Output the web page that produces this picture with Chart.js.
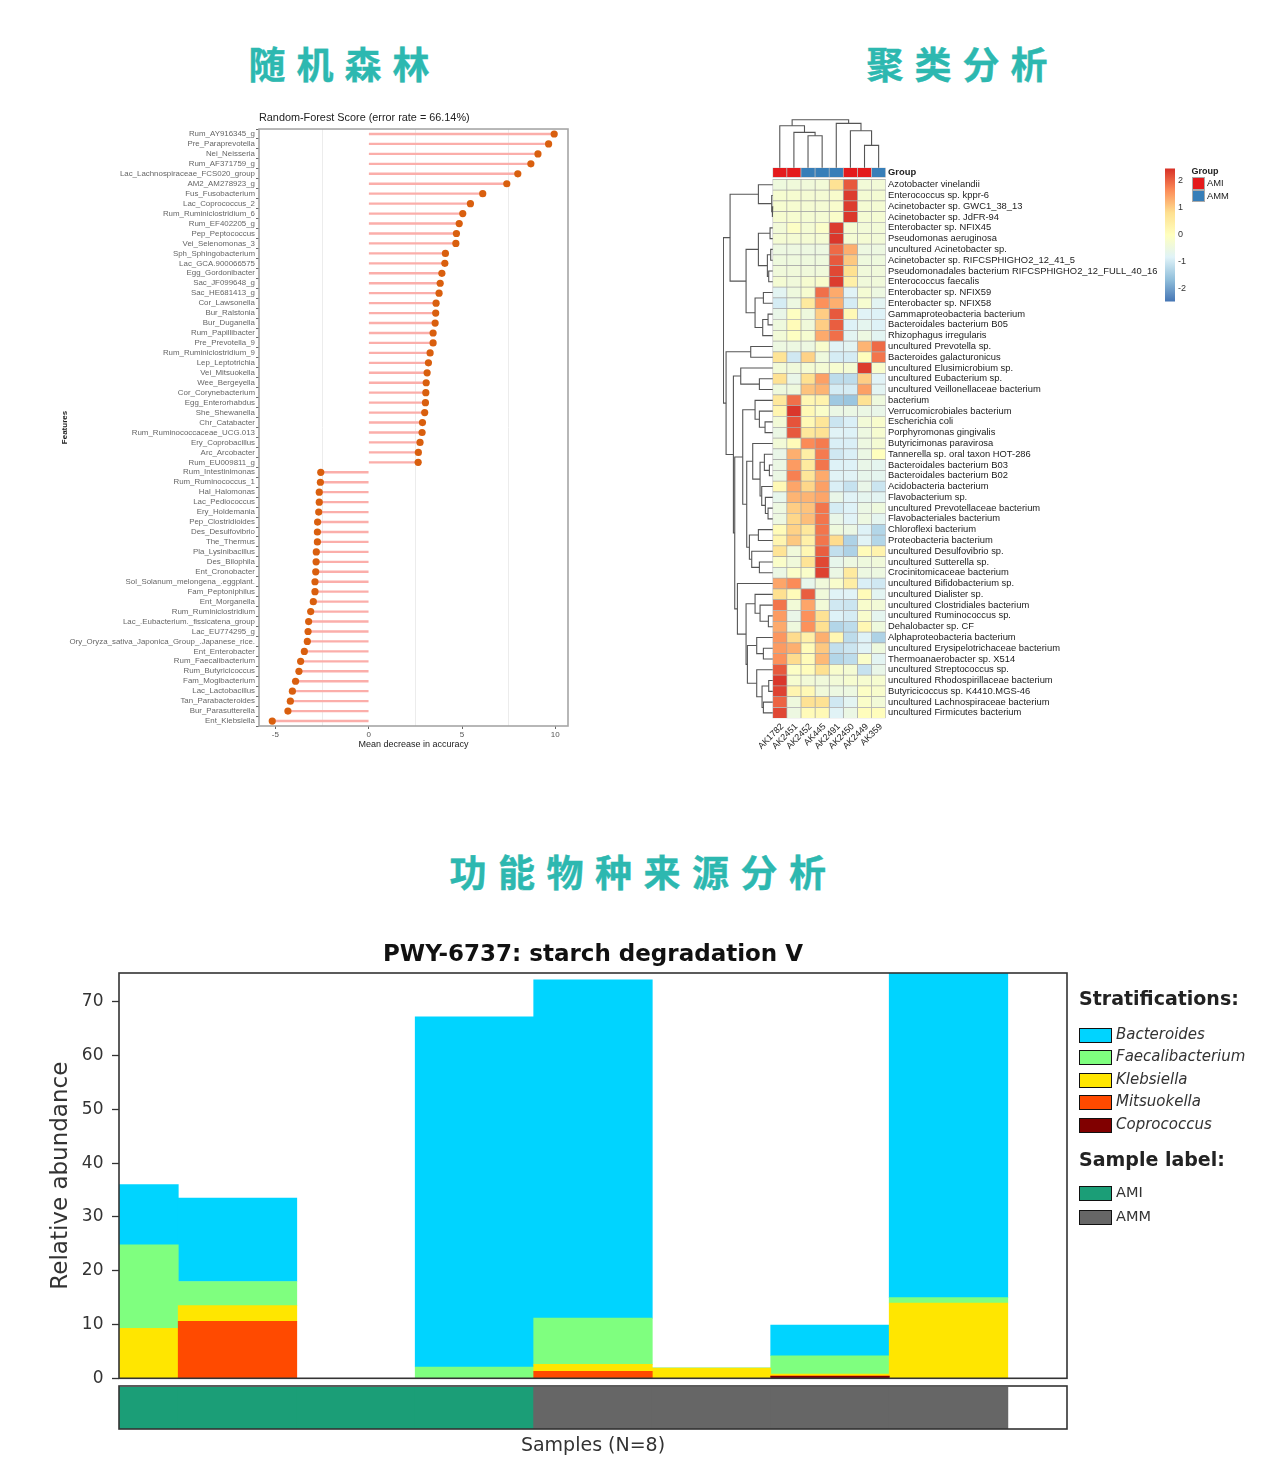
<!DOCTYPE html>
<html lang="zh"><head><meta charset="utf-8">
<script src="https://cdn.jsdelivr.net/npm/chart.js@4"></script>
<style>
html,body{margin:0;padding:0;background:#fff;}
body{position:relative;width:1280px;height:1475px;overflow:hidden;}
canvas{position:absolute;}
.soft{filter:blur(.45px);}
.abs{position:absolute;white-space:pre;}
.head{font:700 37px/40px "Noto Sans CJK SC";color:#2db8b0;letter-spacing:11px;-webkit-text-stroke:.4px #2db8b0;}
</style></head><body>
<div class="abs head" style="left:248.5px;top:43px">随机森林</div>
<div class="abs head" style="left:866.5px;top:43px">聚类分析</div>
<div class="abs head" style="left:449.5px;top:851px;letter-spacing:11.5px">功能物种来源分析</div>
<canvas id="rf" class="soft" style="left:60px;top:100px" width="520" height="660"></canvas>
<canvas id="heat" class="soft" style="left:720px;top:110px" width="445" height="660"></canvas>
<canvas id="ramp" class="soft" style="left:1150px;top:160px" width="50" height="150"></canvas>
<canvas id="bars" class="soft" style="left:40px;top:930px" width="1040" height="467"></canvas>
<canvas id="strip" class="soft" style="left:40px;top:1380px" width="1040" height="80"></canvas>
<div id="legends"></div>
<script>
/* ---------- random forest ---------- */
const rfFeatures = ["Rum_AY916345_g","Pre_Paraprevotella","Nei_Neisseria","Rum_AF371759_g","Lac_Lachnospiraceae_FCS020_group","AM2_AM278923_g","Fus_Fusobacterium","Lac_Coprococcus_2","Rum_Ruminiclostridium_6","Rum_EF402205_g","Pep_Peptococcus","Vei_Selenomonas_3","Sph_Sphingobacterium","Lac_GCA.900066575","Egg_Gordonibacter","Sac_JF099648_g","Sac_HE681413_g","Cor_Lawsonella","Bur_Ralstonia","Bur_Duganella","Rum_Papillibacter","Pre_Prevotella_9","Rum_Ruminiclostridium_9","Lep_Leptotrichia","Vei_Mitsuokella","Wee_Bergeyella","Cor_Corynebacterium","Egg_Enterorhabdus","She_Shewanella","Chr_Catabacter","Rum_Ruminococcaceae_UCG.013","Ery_Coprobacillus","Arc_Arcobacter","Rum_EU009811_g","Rum_Intestinimonas","Rum_Ruminococcus_1","Hal_Halomonas","Lac_Pediococcus","Ery_Holdemania","Pep_Clostridioides","Des_Desulfovibrio","The_Thermus","Pla_Lysinibacillus","Des_Bilophila","Ent_Cronobacter","Sol_Solanum_melongena_.eggplant.","Fam_Peptoniphilus","Ent_Morganella","Rum_Ruminiclostridium","Lac_.Eubacterium._fissicatena_group","Lac_EU774295_g","Ory_Oryza_sativa_Japonica_Group_.Japanese_rice.","Ent_Enterobacter","Rum_Faecalibacterium","Rum_Butyricicoccus","Fam_Mogibacterium","Lac_Lactobacillus","Tan_Parabacteroides","Bur_Parasutterella","Ent_Klebsiella"];
const rfScores = [9.94,9.64,9.07,8.69,7.99,7.40,6.11,5.45,5.04,4.85,4.70,4.67,4.11,4.08,3.92,3.83,3.77,3.61,3.59,3.56,3.45,3.45,3.29,3.20,3.13,3.08,3.06,3.04,3.00,2.88,2.86,2.75,2.66,2.65,-2.57,-2.59,-2.65,-2.65,-2.68,-2.74,-2.75,-2.75,-2.81,-2.82,-2.84,-2.88,-2.88,-2.97,-3.11,-3.22,-3.25,-3.29,-3.45,-3.65,-3.74,-3.92,-4.09,-4.20,-4.33,-5.17];
const rfTicks = [-5,-2.5,0,2.5,5,7.5,10];

/* ---------- clustered heatmap ---------- */
const heatColumns = ["AK1782","AK2451","AK2452","AK445","AK2491","AK2450","AK2449","AK359"];
const heatGroups = ["AMI","AMI","AMM","AMM","AMM","AMI","AMI","AMM"];
const heatRows = ["Azotobacter vinelandii","Enterococcus sp. kppr-6","Acinetobacter sp. GWC1_38_13","Acinetobacter sp. JdFR-94","Enterobacter sp. NFIX45","Pseudomonas aeruginosa","uncultured Acinetobacter sp.","Acinetobacter sp. RIFCSPHIGHO2_12_41_5","Pseudomonadales bacterium RIFCSPHIGHO2_12_FULL_40_16","Enterococcus faecalis","Enterobacter sp. NFIX59","Enterobacter sp. NFIX58","Gammaproteobacteria bacterium","Bacteroidales bacterium B05","Rhizophagus irregularis","uncultured Prevotella sp.","Bacteroides galacturonicus","uncultured Elusimicrobium sp.","uncultured Eubacterium sp.","uncultured Veillonellaceae bacterium","bacterium","Verrucomicrobiales bacterium","Escherichia coli","Porphyromonas gingivalis","Butyricimonas paravirosa","Tannerella sp. oral taxon HOT-286","Bacteroidales bacterium B03","Bacteroidales bacterium B02","Acidobacteria bacterium","Flavobacterium sp.","uncultured Prevotellaceae bacterium","Flavobacteriales bacterium","Chloroflexi bacterium","Proteobacteria bacterium","uncultured Desulfovibrio sp.","uncultured Sutterella sp.","Crocinitomicaceae bacterium","uncultured Bifidobacterium sp.","uncultured Dialister sp.","uncultured Clostridiales bacterium","uncultured Ruminococcus sp.","Dehalobacter sp. CF","Alphaproteobacteria bacterium","uncultured Erysipelotrichaceae bacterium","Thermoanaerobacter sp. X514","uncultured Streptococcus sp.","uncultured Rhodospirillaceae bacterium","Butyricicoccus sp. K4410.MGS-46","uncultured Lachnospiraceae bacterium","uncultured Firmicutes bacterium"];
const heatValues = [
[-.45,-.4,-.4,-.35,.75,2.1,-.35,-.35],
[-.25,-.25,-.3,-.3,-.2,2.35,-.3,-.3],
[-.25,-.25,-.3,-.3,-.2,2.35,-.3,-.3],
[-.25,-.25,-.3,-.3,-.15,2.4,-.3,-.3],
[-.35,-.1,-.3,-.15,2.35,-.3,-.35,-.35],
[-.3,-.3,-.3,-.3,2.4,-.3,-.3,-.35],
[-.5,-.5,-.5,-.5,1.95,1.3,-.5,-.5],
[-.45,-.45,-.45,-.45,2.1,1.05,-.45,-.45],
[-.4,-.4,-.4,-.4,2.25,.8,-.4,-.4],
[-.3,-.4,-.25,-.2,2.35,.4,-.4,-.4],
[-.75,-.45,-.25,1.9,1.35,-.8,-.3,-.5],
[-.95,-.5,.55,1.6,1.3,-.95,-.25,-.75],
[-.6,-.05,-.45,1,2.1,.15,-.8,-.85],
[-.45,.1,-.4,1,2.05,-.85,-.7,-.85],
[-.35,-.05,-.25,1.35,1.9,-.75,-.5,-.75],
[-.5,-.5,-.5,-.2,-.8,-.75,1.25,1.95],
[.7,-1,.95,-.45,-.95,-.95,.05,1.85],
[-.35,-.4,-.3,-.3,-.25,-.3,2.35,-.2],
[.75,-.6,.8,1.45,-1.2,-1.2,1,-.8],
[-.45,-.45,1.1,1.25,-.95,-.95,1.45,-.75],
[.6,1.9,.2,.3,-1.5,-1.55,.75,-.45],
[.25,2.4,.15,-.15,-.55,-.55,-.55,-.6],
[-.35,2.15,.15,.65,-1.05,-.9,-.35,-.2],
[-.55,2.1,.6,.75,-.8,-.85,-.5,-.25],
[-.35,.1,1.65,1.8,-.9,-.9,-.5,-.3],
[-.6,1.3,.45,1.8,-1,-.9,-.55,0],
[-.55,1.5,.55,1.85,-.85,-.85,-.6,-.7],
[-.55,1.75,.65,1.35,-.8,-.8,-.65,-.7],
[.15,1.4,.9,1.45,-.9,-1.1,-.6,-1.05],
[-.65,1.25,1.25,1.4,-.6,-.8,-.7,-.75],
[-.5,1,1.1,1.85,-.95,-.85,-.55,-.45],
[-.5,.9,1.15,1.85,-.6,-.8,-.5,-.7],
[.1,.95,.6,1.85,-.45,-.55,-.85,-1.3],
[.25,1.05,.4,1.85,.85,-1.35,-.8,-1.3],
[.7,-.4,.2,2.05,-1.15,-1.35,.1,.3],
[-.15,-.4,.7,2.25,-.65,-.5,-.45,-.4],
[-.55,-.15,-.15,2.3,-.55,.55,-.5,-.5],
[1.4,1.65,-.65,-.4,-.2,.45,-.9,-1],
[.8,.1,2.05,-.4,-.8,-.8,.1,-.75],
[1.85,-.35,1.4,-.35,-1,-1.05,-.2,-.35],
[1.5,-.6,1.6,.75,-.85,-.95,-.2,-.7],
[1.35,-.45,1.6,.8,-1.3,-1.2,.2,-.45],
[1.55,.85,.4,1.3,.2,-1.2,-.85,-1.35],
[1.5,1.3,.1,1.05,-1.15,-1.05,-.8,-.45],
[1.6,.85,.1,1.2,-1.3,-1.2,-.15,-.75],
[2.1,-.1,.05,.8,-.2,-.3,-1.1,-.6],
[2.4,-.25,-.35,-.4,-.35,-.25,-.25,-.25],
[2.3,.25,.15,-.4,-.5,-.5,-.1,-.2],
[2,-.45,.75,.75,-1,-.75,-.15,-.35],
[2.25,-.5,.1,.15,-.8,-.55,.05,.05]];
const heatRange = [-2.48,2.46];
const heatPalette = ["#4575b4","#91bfdb","#e0f3f8","#ffffbf","#fee090","#fc8d59","#d73027"];
const heatScaleTicks = [-2,-1,0,1,2];
const groupColors = {AMI:"#e41a1c",AMM:"#377eb8"};
/* dendrograms: [merge height, upper branch, lower branch]; 0 is a leaf */
const columnTree = [144,[126,0,[106,0,[96,0,0]]],[133,0,[111,0,[67,0,0]]]];
const rowTree = [148,
 [128,[43,0,[3,0,[1.5,0,0]]],
      [80,[43,[8,0,0],[16,[6,0,0],[12,0,0]]],
          [53,[28,0,0],[30,[14,0,0],0]]]],
 [140,[66,0,0],
      [118,[96,0,[40,0,0]],
           [114,[90,[53,0,[40,0,[23,0,0]]],
                    [78,[60,0,[38,[25,0,[10,0,0]],[33,0,[22,0,[14,0,0]]]]],
                        [70,[43,0,0],[63,0,[40,0,0]]]]],
                [106,0,[80,[53,0,[38,0,[13,0,0]]],
                           [76,[48,0,[28,0,0]],
                               [48,0,[32,[12,0,0],[28,0,0]]]]]]]]]];

/* ---------- stacked abundance ---------- */
const barSampleIndex = [0,1,2,3,4,5,6,7];
const taxa = ["Coprococcus","Mitsuokella","Klebsiella","Faecalibacterium","Bacteroides"];
const coprococcus      = [0,0,0,0,0,0,.35,0];
const mitsuokella      = [0,10.6,0,0,1.3,0,.1,0];
const klebsiella       = [9.3,2.9,0,0,1.3,1.9,.35,14];
const faecalibacterium = [15.5,4.5,0,2.1,8.6,0,3.4,1];
const bacteroides      = [11.2,15.5,0,65.1,62.9,0,5.7,65];
const taxaColors = ["#800000","#ff4a00","#ffe600","#7fff7f","#00d4ff"];
const sampleGroups = ["AMI","AMI","AMI","AMI","AMM","AMM","AMM","AMM"];
const sampleColors = {AMI:"#1b9e77",AMM:"#666666"};

/* ---------- helpers ---------- */
Chart.defaults.animation = false;
Chart.defaults.responsive = false;
Chart.defaults.plugins.legend.display = false;
Chart.defaults.plugins.tooltip.enabled = false;
const HELV = "'Liberation Sans'", DJV = "'DejaVu Sans'";
const frame = (color,width) => ({id:'frame',afterDatasetsDraw(c){
  const a=c.chartArea,x=c.ctx;x.save();x.strokeStyle=color;x.lineWidth=width;
  x.strokeRect(a.left,a.top,a.right-a.left,a.bottom-a.top);x.restore();}});
const hex = h => [1,3,5].map(i=>parseInt(h.substr(i,2),16));
function heatColor(v){
  const t=Math.max(0,Math.min(1,(v-heatRange[0])/(heatRange[1]-heatRange[0])))*(heatPalette.length-1);
  const i=Math.min(heatPalette.length-2,Math.floor(t)),f=t-i,a=hex(heatPalette[i]),b=hex(heatPalette[i+1]);
  return `rgb(${a.map((c,k)=>Math.round(c+(b[k]-c)*f)).join(',')})`;
}
/* walk a dendrogram: yields one merge per node; leaves sit one after the other */
function treeLinks(tree){
  const out=[];let next=0;
  (function walk(n){
    if(!n) return {p:next++ +.5,h:0};
    const l=walk(n[1]),r=walk(n[2]);
    out.push({l,r,h:n[0]});
    return {p:(l.p+r.p)/2,h:n[0]};
  })(tree);
  return out;
}
const treeLine = pts => ({type:'line',data:pts,borderColor:'#555',borderWidth:1.1,pointRadius:0,fill:false,tension:0,order:-1});

/* ---------- chart 1: lollipops ---------- */
new Chart(document.getElementById('rf'),{
  type:'bar',
  data:{labels:rfFeatures,datasets:[
    {type:'line',data:rfScores,showLine:false,pointRadius:3.6,pointBackgroundColor:'#d95f0e',pointBorderColor:'#d95f0e',pointBorderWidth:0,order:0},
    {type:'bar',data:rfScores,backgroundColor:'#fbaeaa',barThickness:1.7,order:1}
  ]},
  options:{indexAxis:'y',
    layout:{padding:{top:0,right:12,left:0,bottom:0}},
    plugins:{title:{display:true,fullSize:false,align:'start',text:'Random-Forest Score (error rate = 66.14%)',
        color:'#222',font:{family:HELV,size:10.85,weight:'normal'},padding:{top:11,bottom:5}}},
    scales:{
      x:{type:'linear',min:-5.88,max:10.68,
        afterFit(s){s.height=34;},afterBuildTicks(s){s.ticks=rfTicks.map(value=>({value}));},
        grid:{color:c=>c.tick&&c.tick.value%5===0?'transparent':'#ececec',lineWidth:1,
              tickColor:c=>c.tick&&c.tick.value%5===0?'#666':'transparent',tickLength:3},
        border:{display:false},
        ticks:{autoSkip:false,maxRotation:0,padding:1,color:'#555',font:{family:HELV,size:8},callback:v=>v%5===0?String(v):''},
        title:{display:true,text:'Mean decrease in accuracy',color:'#222',font:{family:HELV,size:9},padding:{top:0,bottom:10}}},
      y:{type:'category',
        afterFit(s){s.width=199;},
        grid:{drawOnChartArea:false,tickLength:3,tickColor:'#666'},border:{display:false},
        ticks:{autoSkip:false,padding:1,color:'#666',font:{family:HELV,size:7.9}},
        title:{display:true,text:'Features',color:'#222',font:{family:HELV,size:8,weight:'bold'},padding:{top:0,bottom:0}}}
    }},
  plugins:[frame('#a6a6a6',1.6)]
});

/* ---------- chart 2: heatmap with dendrograms ---------- */
const heatSets = heatColumns.map((col,c)=>({
  type:'bar',grouped:false,barPercentage:1,categoryPercentage:1,
  borderWidth:.7,borderColor:'#a8a8a8',borderSkipped:false,
  data:heatRows.map((_,r)=>({x:c+.5,y:[r,r+1]})),
  backgroundColor:heatValues.map(row=>heatColor(row[c]))
}));
const groupSet = {type:'bar',grouped:false,barPercentage:1,categoryPercentage:1,
  borderWidth:.7,borderColor:'#bdbdbd',borderSkipped:false,
  data:heatColumns.map((_,c)=>({x:c+.5,y:[-1.08,-.185]})),
  backgroundColor:heatGroups.map(g=>groupColors[g])};
const TOP_UNIT=32.34, LEFT_UNIT=42.4, TOP_BASE=-1.08;
const topLines = treeLinks(columnTree).map(m=>treeLine([
  {x:m.l.p,y:TOP_BASE-m.l.h/TOP_UNIT},{x:m.l.p,y:TOP_BASE-m.h/TOP_UNIT},
  {x:m.r.p,y:TOP_BASE-m.h/TOP_UNIT},{x:m.r.p,y:TOP_BASE-m.r.h/TOP_UNIT}]));
const leftLines = treeLinks(rowTree).map(m=>treeLine([
  {x:-m.l.h/LEFT_UNIT,y:m.l.p},{x:-m.h/LEFT_UNIT,y:m.l.p},
  {x:-m.h/LEFT_UNIT,y:m.r.p},{x:-m.r.h/LEFT_UNIT,y:m.r.p}]));
const GROUP_TICK=-.63;
new Chart(document.getElementById('heat'),{
  type:'bar',
  data:{datasets:[...heatSets,groupSet,...topLines,...leftLines]},
  options:{
    layout:{padding:{left:3,top:9,right:0,bottom:0}},
    scales:{
      x:{type:'linear',offset:false,min:-3.52,max:8,
        afterFit(s){s.height=51.7;},afterBuildTicks(s){s.ticks=heatColumns.map((_,c)=>({value:c+.5}));},
        grid:{display:false,drawTicks:false},border:{display:false},
        ticks:{autoSkip:false,minRotation:45,maxRotation:45,padding:3,labelOffset:2.5,color:'#222',font:{family:HELV,size:9},
               callback:(v,i)=>heatColumns[i]}},
      y:{type:'linear',position:'right',reverse:true,min:-5.6,max:50,
        afterFit(s){s.width=279.3;},
        afterBuildTicks(s){s.ticks=[{value:GROUP_TICK},...heatRows.map((_,r)=>({value:r+.5}))];},
        grid:{display:false,drawTicks:false},border:{display:false},
        ticks:{autoSkip:false,padding:2.3,color:'#222',
               font:c=>({family:HELV,size:9.4,weight:c.tick&&c.tick.value===GROUP_TICK?'bold':'normal'}),
               callback:(v,i)=>i===0?'Group':heatRows[i-1]}}
    }}
});

/* colour scale */
new Chart(document.getElementById('ramp'),{
  type:'bar',
  data:{labels:['z'],datasets:[{data:[heatRange],barPercentage:1,categoryPercentage:1,
    backgroundColor(c){
      const a=c.chart.chartArea; if(!a) return heatPalette[3];
      const g=c.chart.ctx.createLinearGradient(0,a.bottom,0,a.top);
      heatPalette.forEach((h,i)=>g.addColorStop(i/(heatPalette.length-1),h));return g;}}]},
  options:{layout:{padding:{left:15,top:7,bottom:8.3}},
    scales:{x:{display:false},
      y:{position:'right',min:heatRange[0],max:heatRange[1],
        afterFit(s){s.width=25;},afterBuildTicks(s){s.ticks=heatScaleTicks.map(value=>({value}));},
        grid:{display:false,drawTicks:false},border:{display:false},
        ticks:{autoSkip:false,padding:3,color:'#333',font:{family:HELV,size:9},callback:v=>String(v)}}}}
});

/* ---------- chart 3: stacked bars ---------- */
const taxaValues=[coprococcus,mitsuokella,klebsiella,faecalibacterium,bacteroides];
new Chart(document.getElementById('bars'),{
  type:'bar',
  data:{labels:barSampleIndex,datasets:taxa.map((name,i)=>({
    label:name,data:barSampleIndex.map(s=>({x:s,y:taxaValues[i][s]})),
    backgroundColor:taxaColors[i],barThickness:118.6,stack:'a'}))},
  options:{
    layout:{padding:{right:13,bottom:13}},
    plugins:{title:{display:true,fullSize:false,text:'PWY-6737: starch degradation V',color:'#111',
      font:{family:DJV,size:23,weight:'bold'},padding:{top:11,bottom:4.4}}},
    scales:{
      x:{type:'linear',offset:false,min:0,max:8,stacked:true,afterFit(s){s.height=0;},
        grid:{display:false,drawTicks:false},border:{display:false},ticks:{display:false}},
      y:{stacked:true,min:0,max:75.35,
        afterFit(s){s.width=79;},
        grid:{drawOnChartArea:false,tickLength:7,tickColor:'#333',tickWidth:1.3},border:{display:false},
        ticks:{stepSize:10,includeBounds:false,padding:8.5,color:'#333',font:{family:DJV,size:17}},
        title:{display:true,text:'Relative abundance',color:'#333',font:{family:DJV,size:23},padding:{top:7,bottom:0}}}
    }},
  plugins:[frame('#333',1.6)]
});

/* sample strip */
new Chart(document.getElementById('strip'),{
  type:'bar',
  data:{labels:barSampleIndex,datasets:[{
    data:barSampleIndex.map(s=>({x:s,y:1})),
    backgroundColor:sampleGroups.map(g=>sampleColors[g]),barThickness:118.8}]},
  options:{
    layout:{padding:{left:79,right:13,top:6}},
    scales:{
      x:{type:'linear',offset:false,min:0,max:8,afterFit(s){s.height=31;},
        grid:{display:false,drawTicks:false},border:{display:false},ticks:{display:false},
        title:{display:true,text:'Samples (N=8)',color:'#333',font:{family:DJV,size:19},padding:{top:4,bottom:3}}},
      y:{display:false,min:0,max:1.03}
    }},
  plugins:[frame('#333',1.6)]
});

/* ---------- legends ---------- */
const boxes=[];
const text=(s,x,cy,font,color)=>boxes.push(`<div class="abs" style="left:${x}px;top:${cy-12}px;font:${font};line-height:24px;color:${color}">${s}</div>`);
const swatch=(x,y,w,h,fill,line,lw)=>boxes.push(`<div class="abs soft" style="left:${x}px;top:${y}px;width:${w}px;height:${h}px;box-sizing:border-box;background:${fill};border:${lw}px solid ${line}"></div>`);
/* heatmap legend */
text('Group',1191.5,170.5,`bold 9px ${HELV}`,'#222');
swatch(1192,177,13,12.5,groupColors.AMI,'#aaa',.6);
swatch(1192,189.5,13,12.5,groupColors.AMM,'#aaa',.6);
text('AMI',1207,183,`9.4px ${HELV}`,'#222');
text('AMM',1207,195.5,`9.4px ${HELV}`,'#222');
/* abundance legend */
text('Stratifications:',1079,998,`bold 19px ${DJV}`,'#222');
text('Sample label:',1079,1159,`bold 19px ${DJV}`,'#222');
const legendTaxa=["Bacteroides","Faecalibacterium","Klebsiella","Mitsuokella","Coprococcus"];
const legendFill=["#00d4ff","#7fff7f","#ffe600","#ff4a00","#800000"];
const legendY=[1035,1057,1080,1102,1125];
legendTaxa.forEach((n,i)=>{swatch(1079,legendY[i]-7.5,33,15,legendFill[i],'#111',1.7);text(n,1116,legendY[i]-1,`italic 15px ${DJV}`,'#333');});
[["AMI",1193],["AMM",1217]].forEach(([n,y])=>{swatch(1079,y-7.5,33,15,sampleColors[n],'#111',1.7);text(n,1116,y-1,`14.5px ${DJV}`,'#333');});
document.getElementById('legends').innerHTML=boxes.join('');
</script>
</body></html>
